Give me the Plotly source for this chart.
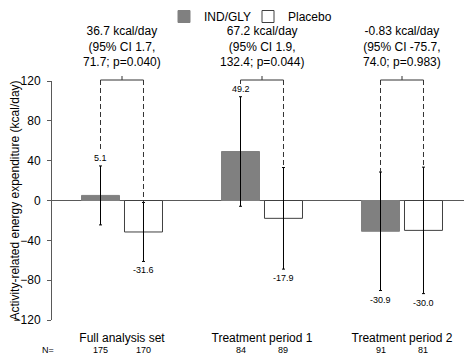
import plotly.graph_objects as go

categories = ["Full analysis set", "Treatment period 1", "Treatment period 2"]
ind_gly_mean = [5.1, 49.2, -30.9]
ind_gly_err = [29.6, 55.0, 59.5]
placebo_mean = [-31.6, -17.9, -30.0]
placebo_err = [29.6, 51.0, 63.5]
n_ind_gly = [175, 84, 91]
n_placebo = [170, 89, 81]
diff_text = [
    "36.7 kcal/day<br>(95% CI 1.7,<br>71.7; p=0.040)",
    "67.2 kcal/day<br>(95% CI 1.9,<br>132.4; p=0.044)",
    "-0.83 kcal/day<br>(95% CI -75.7,<br>74.0; p=0.983)",
]
series_names = ["IND/GLY", "Placebo"]

FONT = "Arial, Liberation Sans, sans-serif"
BARGAP = 0.386
BARGROUPGAP = 0.116
slot = (1 - BARGAP) / 2
offs = [-slot / 2, slot / 2]
PAGE_OFF = 8          # default body margin of the html page
FIG_W = 472 - PAGE_OFF
FIG_H = 355 - PAGE_OFF
PLOT_LEFT = 52 - PAGE_OFF
PLOT_TOP = 81 - PAGE_OFF
PLOT_H = 239
PLOT_W = 420

fig = go.Figure()
fig.add_trace(go.Bar(
    x=categories, y=ind_gly_mean, name=series_names[0], legend="legend",
    marker=dict(color="#808080", line=dict(color="#808080", width=1)),
    error_y=dict(type="data", array=ind_gly_err, color="#000000", thickness=1, width=1.5),
))
fig.add_trace(go.Bar(
    x=categories, y=placebo_mean, name=series_names[1], legend="legend2",
    marker=dict(color="#ffffff", line=dict(color="#404040", width=1)),
    error_y=dict(type="data", array=placebo_err, color="#000000", thickness=1, width=1.5),
))

annotations = []
shapes = []
bracket_y = 1 + 1 / PLOT_H

for i in range(len(categories)):
    means = [ind_gly_mean[i], placebo_mean[i]]
    errs = [ind_gly_err[i], placebo_err[i]]
    ns = [n_ind_gly[i], n_placebo[i]]
    for k in range(2):
        xk = i + offs[k]
        m, e = means[k], errs[k]
        if m >= 0:
            annotations.append(dict(x=xk, y=m + e, xref="x", yref="y", text=f"{m:.1f}",
                                    showarrow=False, yshift=8, yanchor="middle",
                                    font=dict(size=9, family=FONT, color="#000000")))
            end = min(m + e + 16, 117)
        else:
            annotations.append(dict(x=xk, y=m - e, xref="x", yref="y", text=f"{m:.1f}",
                                    showarrow=False, yshift=-9, yanchor="middle",
                                    font=dict(size=9, family=FONT, color="#000000")))
            end = m + e
        y_end_paper = (end + 120) / 240.0
        shapes.append(dict(type="line", xref="x", yref="paper", x0=xk, x1=xk,
                           y0=bracket_y, y1=y_end_paper,
                           line=dict(color="#333333", width=1, dash="5px,3px")))
        annotations.append(dict(x=xk, y=-30 / PLOT_H, xref="x", yref="paper",
                                text=str(ns[k]), showarrow=False, yanchor="middle",
                                font=dict(size=9, family=FONT, color="#000000")))
    shapes.append(dict(type="line", xref="x", yref="paper", x0=i + offs[0], x1=i + offs[1],
                       y0=bracket_y, y1=bracket_y, line=dict(color="#333333", width=1)))
    shapes.append(dict(type="line", xref="x", yref="paper", x0=i, x1=i,
                       y0=bracket_y, y1=bracket_y + 4 / PLOT_H, line=dict(color="#333333", width=1)))
    annotations.append(dict(x=i, y=1 + 34 / PLOT_H, xref="x", yref="paper",
                            text=diff_text[i], showarrow=False, yanchor="middle",
                            align="center", font=dict(size=12, family=FONT, color="#000000")))

annotations.append(dict(x=-12 / PLOT_W, y=-30 / PLOT_H, xref="paper", yref="paper",
                        text="N=", showarrow=False, yanchor="middle",
                        font=dict(size=9, family=FONT, color="#000000")))

legend_common = dict(orientation="h", xanchor="left", yanchor="top",
                     y=1 + (PLOT_TOP + 6) / PLOT_H,
                     font=dict(size=12, family=FONT, color="#000000"),
                     bgcolor="rgba(0,0,0,0)")

fig.update_layout(
    width=FIG_W, height=FIG_H,
    margin=dict(l=PLOT_LEFT, r=0, t=PLOT_TOP, b=FIG_H - PLOT_TOP - PLOT_H, autoexpand=False),
    barmode="group", bargap=BARGAP, bargroupgap=BARGROUPGAP,
    plot_bgcolor="#ffffff", paper_bgcolor="#ffffff",
    font=dict(family=FONT, size=12, color="#000000"),
    showlegend=True,
    legend=dict(x=(156 - PLOT_LEFT) / PLOT_W, **legend_common),
    legend2=dict(x=(240 - PLOT_LEFT) / PLOT_W, **legend_common),
    xaxis=dict(showline=False, ticks="", showgrid=False, zeroline=False,
               tickfont=dict(size=12, family=FONT, color="#000000"),
               ticklabelstandoff=9,
               range=[-0.5, 2.5]),
    yaxis=dict(range=[-120, 120], tickvals=[-120, -80, -40, 0, 40, 80, 120],
               showline=True, linecolor="#595959", linewidth=1,
               ticks="outside", ticklen=4, tickcolor="#595959",
               ticklabelstandoff=4,
               showgrid=False, zeroline=True, zerolinecolor="#595959", zerolinewidth=1,
               tickfont=dict(size=12, family=FONT, color="#000000"),
               title=dict(text="Activity-related energy expenditure (kcal/day)",
                          font=dict(size=12, family=FONT, color="#000000"), standoff=9)),
    annotations=annotations,
    shapes=shapes,
)

fig.write_html("out.html", config={"displayModeBar": False})
